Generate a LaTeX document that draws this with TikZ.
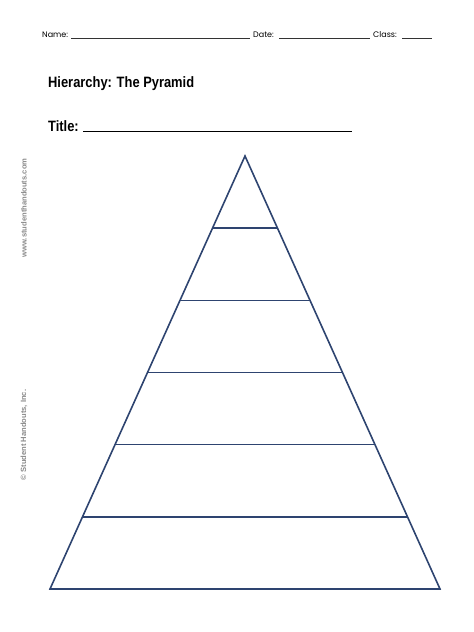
\documentclass[tikz,border=0pt]{standalone}
\usepackage{fontspec}
\usetikzlibrary{calc}
\setmainfont{Liberation Sans}
\newfontfamily\gothic{Poppins}
\definecolor{navy}{HTML}{2E4470}
\definecolor{sidegrey}{HTML}{8A8A8A}
\begin{document}
\begin{tikzpicture}[x=1pt,y=-1pt,
  layer/.style={draw=navy,line width=1.6pt},
  field/.style={font=\gothic\fontsize{8}{9}\selectfont,inner sep=0pt,anchor=base west},
  blank/.style={line width=0.5pt,black!80},
  sidetxt/.style={font=\fontsize{7.6}{9}\selectfont\bfseries,text=sidegrey,rotate=90,inner sep=0pt}]
\useasboundingbox (0,0) rectangle (474,632);
% header fields
\node[field] (name) at (42,37) {Name:};
\coordinate (n1) at (71,38); \coordinate (n2) at (250,38);
\draw[blank] (n1) -- (n2);
\node[field] (date) at (253,37) {Date:};
\coordinate (d1) at (279,38); \coordinate (d2) at (370,38);
\draw[blank] (d1) -- (d2);
\node[field] (class) at (373,37) {Class:};
\coordinate (c1) at (402,38); \coordinate (c2) at (432,38);
\draw[blank] (c1) -- (c2);
% heading
\node[inner sep=0pt,anchor=base west,font=\bfseries\fontsize{15}{17}\selectfont,xscale=0.86] (head) at (48,87) {Hierarchy: The Pyramid};
\node[inner sep=0pt,anchor=base west,font=\bfseries\fontsize{15}{17}\selectfont,xscale=0.86] (title) at (48,131) {Title:};
\coordinate (t1) at (83,131); \coordinate (t2) at (352,131);
\draw[line width=0.8pt] (t1) -- (t2);
% side texts
\node[sidetxt] (web) at (24,208) {www.studenthandouts.com};
\node[sidetxt] (copy) at (24,435) {© Student Handouts, Inc.};
% pyramid
\coordinate (apex) at (245,156);
\coordinate (bl) at (50,589);
\coordinate (br) at (440,589);
\draw[layer,line join=miter] (apex) -- (br) -- (bl) -- cycle;
\foreach \i in {1,...,5}{
  \draw[layer] ($(apex)!\i/6!(bl)$) -- ($(apex)!\i/6!(br)$);
}
\end{tikzpicture}
\end{document}
